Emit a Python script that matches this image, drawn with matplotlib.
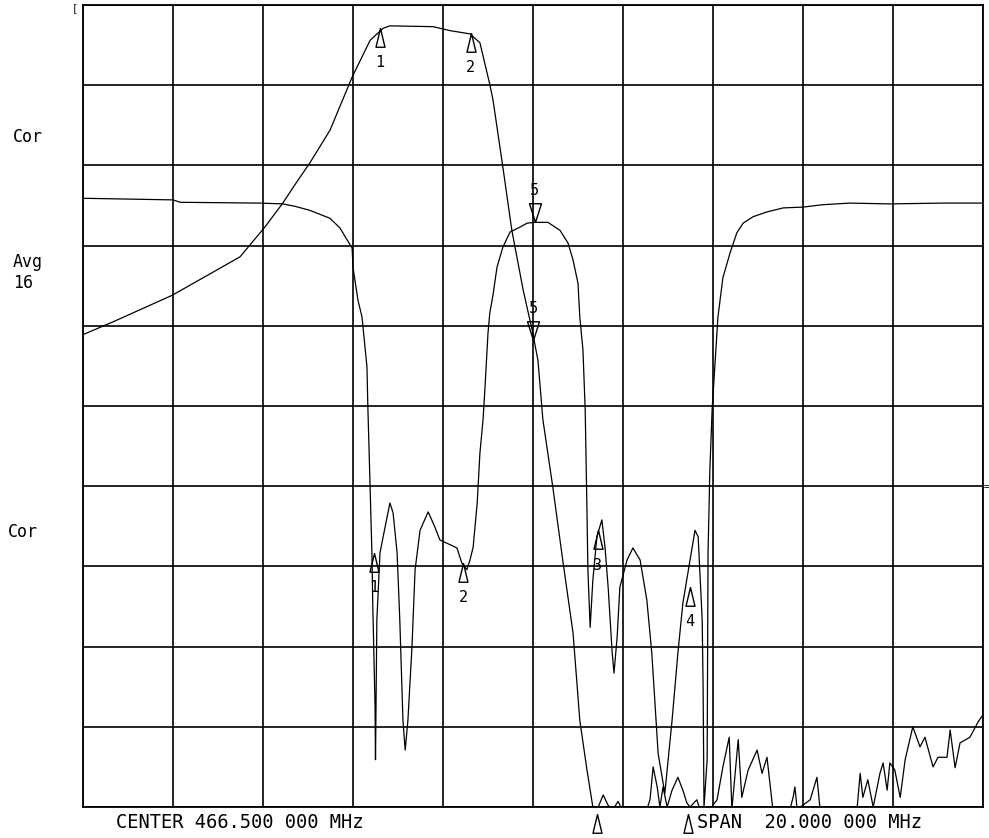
import numpy as np
import matplotlib
matplotlib.use("Agg")
import matplotlib.pyplot as plt

# network analyzer plot: CH1 = S21 (transmission), CH2 = S11 (return)
# x in MHz, y in dB (10 dB / div, ref at top)
center_mhz = 466.5
span_mhz = 20.0

s21_freq = [456.50, 457.17, 458.48, 459.99, 460.54, 460.94, 461.21, 461.54, 461.99, 462.48,
            462.88, 463.17, 463.32, 464.28, 464.66, 465.10, 465.32, 465.54, 465.61, 465.72,
            465.83, 466.03, 466.28, 466.48, 466.61, 466.72, 466.94, 467.17, 467.39, 467.54,
            467.70, 467.83, 467.92, 468.06, 468.17, 468.28, 468.39, 468.48, 469.03, 469.10,
            469.17, 469.26, 469.32, 469.39, 469.48, 469.59, 469.72, 469.83, 469.92, 469.99,
            470.14, 470.21, 470.43, 470.59, 470.72, 470.86, 470.92, 471.06, 471.14, 471.28,
            471.48, 471.59, 471.70, 471.83, 472.21, 472.28, 472.32, 472.37, 472.66, 472.81,
            472.88, 473.70, 473.77, 473.83, 473.94, 474.06, 474.21, 474.28, 474.37, 474.43,
            474.54, 474.66, 474.77, 474.94, 475.10, 475.21, 475.39, 475.50, 475.70, 475.77,
            475.88, 475.99, 476.21, 476.39, 476.50]
s21_db = [-41.1, -39.5, -36.2, -31.4, -27.7, -24.7, -22.4, -19.7, -15.6, -9.0,
          -4.4, -2.9, -2.6, -2.7, -3.2, -3.6, -4.7, -9.9, -11.8, -16.0,
          -20.2, -28.1, -35.5, -40.5, -44.3, -51.7, -60.1, -69.6, -78.3, -89.2,
          -95.4, -100.0, -100.4, -98.5, -99.8, -100.3, -99.3, -100.3, -100.3, -99.1,
          -95.0, -97.5, -100.0, -97.5, -100.0, -97.9, -96.3, -97.9, -99.5, -100.0,
          -99.1, -100.3, -100.3, -99.1, -95.0, -91.3, -100.3, -91.6, -98.8, -95.4,
          -92.9, -95.8, -93.8, -100.3, -100.3, -98.8, -97.5, -100.3, -99.1, -96.3,
          -100.3, -100.3, -95.8, -98.8, -96.6, -100.0, -95.8, -94.5, -97.9, -94.5,
          -95.4, -98.8, -94.1, -90.0, -92.5, -91.3, -95.0, -93.8, -93.8, -90.4,
          -95.1, -92.0, -91.3, -89.4, -88.5]

s11_freq = [456.50, 458.50, 458.66, 460.43, 460.94, 461.21, 461.54, 461.99, 462.21, 462.37,
            462.48, 462.50, 462.61, 462.70, 462.81, 462.83, 462.88, 462.92, 462.94, 462.99,
            463.00, 463.03, 463.10, 463.17, 463.32, 463.39, 463.48, 463.54, 463.61, 463.66,
            463.72, 463.81, 463.88, 463.99, 464.17, 464.32, 464.43, 464.66, 464.81, 464.92,
            465.03, 465.10, 465.17, 465.26, 465.32, 465.39, 465.43, 465.50, 465.54, 465.61,
            465.70, 465.83, 465.99, 466.21, 466.37, 466.54, 466.83, 467.10, 467.28, 467.39,
            467.50, 467.54, 467.61, 467.66, 467.70, 467.72, 467.77, 467.83, 467.92, 468.03,
            468.10, 468.17, 468.26, 468.30, 468.37, 468.43, 468.59, 468.72, 468.88, 469.03,
            469.14, 469.21, 469.28, 469.43, 469.59, 469.72, 469.83, 469.99, 470.10, 470.17,
            470.26, 470.28, 470.30, 470.37, 470.39, 470.43, 470.48, 470.54, 470.61, 470.72,
            470.88, 471.03, 471.17, 471.39, 471.70, 472.06, 472.50, 472.94, 473.54, 474.43,
            475.61, 476.50]
s11_db = [-24.1, -24.3, -24.6, -24.7, -24.8, -25.1, -25.6, -26.6, -27.8, -29.3,
          -30.3, -32.7, -36.8, -38.9, -45.1, -50.1, -60.1, -68.3, -75.0, -87.5,
          -94.1, -76.7, -68.3, -66.3, -62.1, -63.3, -68.3, -76.7, -89.2, -92.9,
          -89.2, -80.1, -70.4, -65.5, -63.2, -65.1, -66.7, -67.3, -67.7, -69.6,
          -70.4, -69.2, -67.6, -62.1, -55.9, -51.7, -48.0, -40.9, -38.4, -36.2,
          -32.7, -30.2, -28.3, -27.7, -27.2, -27.1, -27.1, -28.1, -29.7, -31.8,
          -34.7, -38.9, -43.0, -50.5, -63.3, -70.4, -77.6, -71.7, -66.3, -64.2,
          -67.6, -72.6, -80.8, -83.3, -78.8, -72.6, -69.2, -67.7, -69.2, -74.2,
          -80.8, -87.0, -93.3, -98.3, -89.2, -80.8, -74.6, -69.2, -65.5, -66.3,
          -76.7, -85.0, -100.0, -94.1, -68.3, -58.0, -50.5, -45.1, -38.9, -34.0,
          -30.9, -28.4, -27.2, -26.4, -25.8, -25.3, -25.2, -24.9, -24.7, -24.8,
          -24.7, -24.7]

# markers (number, freq, level, pointing); CH1 markers 3 and 4 sit off the bottom
mk_s21_num = ["1", "2", "", "", "5"]
mk_s21_freq = [463.10, 465.12, 467.92, 469.95, 466.50]
mk_s21_db = [-2.9, -3.5, -100.9, -100.9, -41.8]
mk_s21_dir = ["up", "up", "up", "up", "down"]

mk_s11_num = ["1", "2", "3", "4", "5"]
mk_s11_freq = [462.97, 464.95, 467.94, 469.99, 466.54]
mk_s11_db = [-68.3, -69.6, -65.5, -72.6, -27.1]
mk_s11_dir = ["up", "up", "up", "up", "down"]

W, H = 989, 838
fig = plt.figure(figsize=(W / 100, H / 100), dpi=100)
ax = fig.add_axes([83 / W, 1 - 807 / H, 900 / W, 802 / H])

f0 = center_mhz - span_mhz / 2
f1 = center_mhz + span_mhz / 2
ax.set_xlim(f0, f1)
ax.set_ylim(-100, 0)
ax.set_xticks(np.linspace(f0, f1, 11))
ax.set_yticks(np.arange(-100, 1, 10))
ax.tick_params(length=0, labelbottom=False, labelleft=False)
ax.grid(True, color="black", lw=1.2)
for s in ax.spines.values():
    s.set_linewidth(1.3)

ax.plot(s21_freq, s21_db, color="black", lw=0.9)
ax.plot(s11_freq, s11_db, color="black", lw=0.9)

tri_up = [(0, 0), (-0.24, -1), (0.24, -1), (0, 0)]
tri_dn = [(0, 0), (-0.32, 1), (0.32, 1), (0, 0)]
mono = "DejaVu Sans Mono"

def draw_markers(nums, freqs, dbs, dirs):
    for n, f, v, d in zip(nums, freqs, dbs, dirs):
        m = tri_up if d == "up" else tri_dn
        ax.plot([f], [v], marker=m, ms=27, mfc="none", mec="black", mew=1.0,
                clip_on=False, ls="none")
        if not n:
            continue
        dy = -25 if d == "up" else 23
        ax.annotate(n, (f, v), xytext=(0, dy), textcoords="offset points",
                    ha="center", va="center", fontsize=11, family=mono)

draw_markers(mk_s21_num, mk_s21_freq, mk_s21_db, mk_s21_dir)
draw_markers(mk_s11_num, mk_s11_freq, mk_s11_db, mk_s11_dir)

def ftxt(x, y, s, **kw):
    fig.text(x / W, 1 - y / H, s, family=mono, **kw)

ftxt(13, 137, "Cor", fontsize=12, va="center")
ftxt(13, 262, "Avg", fontsize=12, va="center")
ftxt(13, 283, "16", fontsize=12, va="center")
ftxt(8, 532, "Cor", fontsize=12, va="center")
ftxt(116, 822, "CENTER 466.500 000 MHz", fontsize=13.5, va="center")
ftxt(697, 822, "SPAN  20.000 000 MHz", fontsize=13.5, va="center")
ftxt(984, 487, "=", fontsize=7, va="center")
ftxt(72, 8, "[", fontsize=7, va="center")

fig.savefig("out.png", dpi=100, facecolor="white")
